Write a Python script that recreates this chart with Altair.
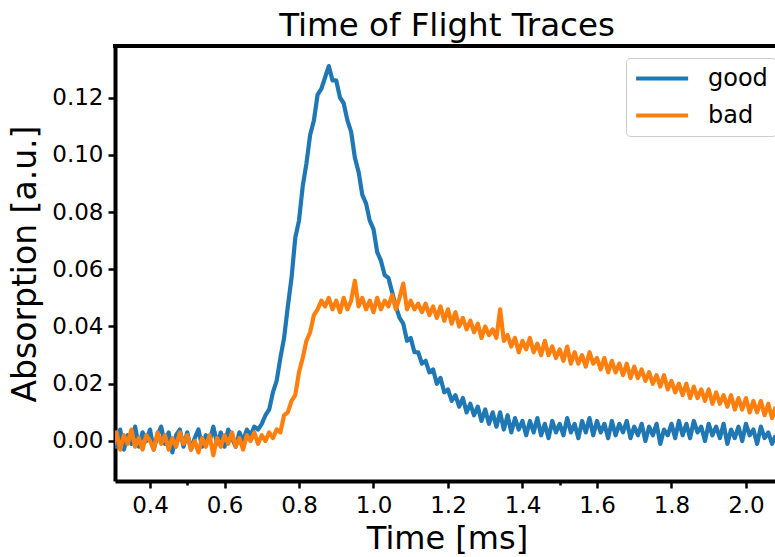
import altair as alt
import pandas as pd

# ---- data ----
time_ms = [round(0.30 + 0.01 * i, 2) for i in range(179)]

good = [
    0.003, -0.002, 0.004, -0.003, 0.002, -0.001, 0.005, -0.002, 0.003, 0.000,
    0.004, -0.003, 0.002, 0.005, -0.001, 0.003, -0.004, 0.002, 0.004, -0.002,
    0.003, -0.003, 0.001, 0.004, -0.002, 0.002, 0.000, 0.005, -0.001, 0.003,
    -0.002, 0.004, 0.001, -0.002, 0.003, 0.000, 0.004, 0.002, 0.005, 0.004,
    0.006, 0.009, 0.011, 0.017, 0.021, 0.029, 0.036, 0.047, 0.057, 0.071,
    0.077, 0.089, 0.097, 0.107, 0.112, 0.121, 0.123, 0.127, 0.131, 0.126,
    0.126, 0.120, 0.118, 0.112, 0.108, 0.099, 0.094, 0.086, 0.083, 0.077,
    0.074, 0.066, 0.063, 0.058, 0.057, 0.052, 0.047, 0.043, 0.041, 0.035,
    0.036, 0.031, 0.031, 0.027, 0.028, 0.024, 0.025, 0.020, 0.022, 0.017,
    0.018, 0.014, 0.016, 0.012, 0.015, 0.010, 0.013, 0.009, 0.012, 0.007,
    0.011, 0.006, 0.010, 0.005, 0.010, 0.004, 0.009, 0.003, 0.008, 0.004,
    0.007, 0.002, 0.007, 0.003, 0.008, 0.002, 0.006, 0.001, 0.007, 0.003,
    0.006, 0.002, 0.008, 0.003, 0.006, 0.001, 0.007, 0.003, 0.008, 0.002,
    0.007, 0.003, 0.006, 0.001, 0.007, 0.002, 0.006, 0.003, 0.007, 0.001,
    0.005, 0.002, 0.006, 0.000, 0.005, 0.002, 0.006, -0.001, 0.004, 0.002,
    0.006, 0.001, 0.007, 0.002, 0.006, 0.001, 0.007, 0.003, 0.005, 0.000,
    0.006, 0.002, 0.005, 0.001, 0.006, -0.001, 0.004, 0.001, 0.005, 0.000,
    0.006, 0.002, 0.004, -0.001, 0.005, 0.001, 0.003, -0.001, 0.002,
]

bad = [
    -0.002, 0.003, -0.003, 0.002, -0.001, 0.004, -0.002, 0.001, -0.003, 0.002,
    0.000, -0.003, 0.003, -0.001, 0.002, -0.003, 0.001, -0.002, 0.003, -0.001,
    0.002, -0.003, 0.000, -0.004, 0.001, -0.002, 0.002, -0.005, 0.001, -0.002,
    0.002, -0.001, 0.003, -0.002, 0.001, -0.003, 0.002, 0.000, 0.003, -0.001,
    0.002, 0.000, 0.003, 0.001, 0.004, 0.003, 0.009, 0.010, 0.014, 0.016,
    0.024, 0.029, 0.035, 0.038, 0.044, 0.046, 0.049, 0.047, 0.050, 0.046,
    0.049, 0.045, 0.050, 0.046, 0.049, 0.056, 0.047, 0.050, 0.046, 0.049,
    0.045, 0.050, 0.046, 0.049, 0.047, 0.051, 0.046, 0.050, 0.055, 0.046,
    0.049, 0.046, 0.048, 0.045, 0.048, 0.044, 0.047, 0.043, 0.047, 0.042,
    0.046, 0.041, 0.045, 0.040, 0.043, 0.039, 0.042, 0.038, 0.041, 0.036,
    0.040, 0.037, 0.039, 0.036, 0.046, 0.035, 0.037, 0.033, 0.036, 0.031,
    0.035, 0.032, 0.036, 0.031, 0.034, 0.030, 0.035, 0.030, 0.033, 0.029,
    0.032, 0.028, 0.033, 0.027, 0.031, 0.027, 0.030, 0.026, 0.031, 0.027,
    0.029, 0.025, 0.029, 0.024, 0.028, 0.024, 0.027, 0.023, 0.027, 0.022,
    0.026, 0.022, 0.025, 0.021, 0.024, 0.020, 0.023, 0.019, 0.023, 0.018,
    0.021, 0.017, 0.020, 0.016, 0.020, 0.015, 0.019, 0.015, 0.018, 0.014,
    0.018, 0.013, 0.017, 0.013, 0.016, 0.012, 0.016, 0.011, 0.015, 0.011,
    0.015, 0.010, 0.014, 0.010, 0.014, 0.009, 0.013, 0.008, 0.012,
]

series_names = ["good", "bad"]
series_colors = ["#1f77b4", "#ff7f0e"]
x_ticks = [0.4, 0.5, 0.6, 0.8, 1.0, 1.2, 1.4, 1.5, 1.6, 1.8, 2.0]
y_ticks = [0.0, 0.02, 0.04, 0.06, 0.08, 0.10, 0.12]
x_domain = [0.306, 2.078]
y_domain = [-0.01398, 0.138]

rows = []
for name, vals in zip(series_names, [good, bad]):
    for t, v in zip(time_ms, vals):
        rows.append({"time": t, "absorption": v, "trace": name})
df = pd.DataFrame(rows)

FONT = "DejaVu Sans"
W, H = 660, 435

minor_test = "datum.value == 0.5 || datum.value == 1.5"

lines = alt.Chart(df).mark_line(clip=True, strokeWidth=4.2, strokeJoin="round").encode(
    x=alt.X(
        "time:Q",
        scale=alt.Scale(domain=x_domain, nice=False, zero=False),
        axis=alt.Axis(
            values=x_ticks,
            labelExpr=f"({minor_test}) ? '' : format(datum.value, '.1f')",
            tickSize={"condition": {"test": minor_test, "value": 4}, "value": 7},
            tickWidth=2.5,
            tickColor="black",
            domainWidth=4,
            domainColor="black",
            labelFont=FONT,
            labelFontSize=23,
            labelColor="black",
            labelPadding=6,
            grid=False,
            title="Time [ms]",
            titleFont=FONT,
            titleFontSize=32,
            titleFontWeight="normal",
            titleColor="black",
            titleX=332,
            titleY=67,
            titleAlign="center",
            titleBaseline="alphabetic",
        ),
    ),
    y=alt.Y(
        "absorption:Q",
        scale=alt.Scale(domain=y_domain, nice=False, zero=False),
        axis=alt.Axis(
            values=y_ticks,
            format=".2f",
            tickSize=7,
            tickWidth=2.5,
            tickColor="black",
            domainWidth=4,
            domainColor="black",
            labelFont=FONT,
            labelFontSize=23,
            labelColor="black",
            labelPadding=5,
            grid=False,
            title="Absorption [a.u.]",
            titleFont=FONT,
            titleFontSize=33,
            titleFontWeight="normal",
            titleColor="black",
            titleX=-80,
            titleY=H / 2,
            titleAlign="center",
            titleBaseline="alphabetic",
        ),
    ),
    color=alt.Color(
        "trace:N",
        scale=alt.Scale(domain=series_names, range=series_colors),
        legend=alt.Legend(
            title=None,
            orient="none",
            legendX=511,
            legendY=12,
            symbolType="M-1,0H4",
            symbolSize=433,
            symbolStrokeWidth=4,
            labelFont=FONT,
            labelFontSize=24,
            labelColor="black",
            labelOffset=49,
            rowPadding=12,
            padding=8,
            strokeColor="#cccccc",
            fillColor="white",
            cornerRadius=4,
        ),
    ),
    order=alt.Order("time:Q"),
)

top_spine = alt.Chart(pd.DataFrame({"k": [0]})).mark_rule(
    color="black", strokeWidth=4
).encode(x=alt.value(-2), x2=alt.value(W + 10), y=alt.value(0))

chart = alt.layer(lines, top_spine).properties(
    width=W,
    height=H,
    autosize=alt.AutoSizeParams(type="none"),
    padding={"left": 115, "top": 46, "right": 0, "bottom": 76},
    title=alt.TitleParams(
        "Time of Flight Traces",
        font=FONT,
        fontSize=32.5,
        fontWeight="normal",
        color="black",
        anchor="middle",
        frame="group",
        dx=2,
        dy=34,
        offset=10,
        baseline="alphabetic",
    ),
    background="white",
).configure_view(stroke=None)

chart.save("out.html", embed_options={"renderer": "svg", "actions": False})
